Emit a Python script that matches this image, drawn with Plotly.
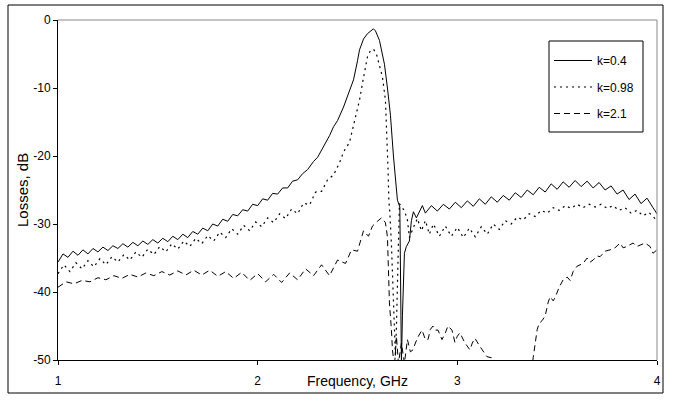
import plotly.graph_objects as go

# ---------------- data ----------------
# k = 0.4 (solid)
f_k04 = [1.000, 1.025, 1.050, 1.075, 1.100, 1.125, 1.150, 1.175, 1.200, 1.225,
         1.250, 1.275, 1.300, 1.325, 1.350, 1.375, 1.400, 1.425, 1.450, 1.475,
         1.500, 1.525, 1.550, 1.575, 1.600, 1.625, 1.650, 1.675, 1.700, 1.725,
         1.750, 1.775, 1.800, 1.825, 1.850, 1.875, 1.900, 1.925, 1.950, 1.975,
         2.000, 2.025, 2.050, 2.075, 2.100, 2.125, 2.150, 2.175, 2.200, 2.225,
         2.250, 2.280, 2.300, 2.330, 2.360, 2.380, 2.400, 2.430, 2.460, 2.480,
         2.500, 2.510, 2.530, 2.550, 2.580, 2.590, 2.610, 2.635, 2.650, 2.665,
         2.680, 2.690, 2.700, 2.712, 2.720, 2.725, 2.735, 2.745, 2.760, 2.770,
         2.780, 2.795, 2.810, 2.825,
         2.84, 2.87, 2.90, 2.93, 2.96, 2.99, 3.02, 3.05, 3.08, 3.11,
         3.14, 3.17, 3.20, 3.23, 3.26, 3.29, 3.32, 3.35, 3.38, 3.41,
         3.44, 3.47, 3.50, 3.53, 3.56, 3.59, 3.62, 3.65, 3.68, 3.71,
         3.74, 3.77, 3.80, 3.83, 3.86, 3.89, 3.92, 3.95, 3.98, 4.00]
loss_k04 = [-35.6, -34.4, -34.9, -34.0, -34.6, -33.8, -34.4, -33.6, -34.1, -33.4,
            -33.9, -33.2, -33.6, -32.9, -33.4, -32.7, -33.2, -32.5, -33.0, -32.3,
            -32.8, -32.1, -32.6, -31.8, -32.3, -31.5, -32.0, -31.1, -31.5, -30.6,
            -31.0, -30.0, -30.3, -29.3, -29.6, -28.6, -28.8, -27.9, -28.1, -27.1,
            -27.3, -26.3, -26.5, -25.5, -25.6, -24.7, -24.7, -23.7, -23.5, -22.6,
            -22.0, -20.8, -20.2, -18.7, -17.0, -15.7, -14.8, -12.8, -10.5, -8.8,
            -6.0, -4.4, -2.8, -2.0, -1.3, -1.6, -3.0, -6.5, -10.0, -14.0,
            -20.0, -23.5, -26.5, -27.5, -50.5, -43.5, -34.3, -33.3, -32.5, -29.5,
            -28.2, -29.1, -28.3, -27.3,
            -28.4, -27.3, -28.1, -27.1, -27.8, -26.8, -27.6, -26.6, -27.4, -26.3,
            -27.1, -26.0, -26.8, -25.8, -26.5, -25.4, -26.1, -25.0, -25.7, -24.6,
            -25.3, -24.1, -24.9, -23.8, -24.6, -23.6, -24.5, -23.7, -24.7, -23.9,
            -25.0, -24.4, -25.6, -25.0, -26.4, -25.6, -27.0, -26.2, -27.6, -28.5]

# k = 0.98 (dotted)
f_k098 = [1.00, 1.03, 1.06, 1.09, 1.12, 1.15, 1.18, 1.21, 1.24, 1.27,
          1.30, 1.33, 1.36, 1.39, 1.42, 1.45, 1.48, 1.51, 1.54, 1.57,
          1.60, 1.63, 1.66, 1.69, 1.72, 1.75, 1.78, 1.81, 1.84, 1.87,
          1.90, 1.93, 1.96, 1.99, 2.02, 2.05, 2.08, 2.11, 2.14, 2.17,
          2.20, 2.23, 2.26, 2.29, 2.32, 2.35, 2.38, 2.41, 2.43, 2.46,
          2.48, 2.49, 2.51, 2.525, 2.54, 2.55, 2.565, 2.58, 2.595, 2.605,
          2.625, 2.64, 2.648, 2.653, 2.657, 2.662, 2.67, 2.68, 2.69, 2.695,
          2.70, 2.71, 2.72, 2.735, 2.75, 2.76, 2.78, 2.80, 2.82, 2.84,
          2.86, 2.88, 2.91, 2.94, 2.97, 3.00, 3.03, 3.06, 3.09, 3.12,
          3.15, 3.18, 3.21, 3.24, 3.27, 3.30, 3.33, 3.36, 3.39, 3.42,
          3.45, 3.48, 3.51, 3.54, 3.57, 3.60, 3.63, 3.66, 3.69, 3.72,
          3.75, 3.78, 3.81, 3.84, 3.87, 3.90, 3.93, 3.96, 3.99, 4.00]
loss_k098 = [-37.3, -36.0, -37.0, -35.7, -36.6, -35.4, -36.3, -35.1, -36.0, -34.8,
             -35.6, -34.5, -35.3, -34.1, -34.9, -33.7, -34.5, -33.3, -34.1, -32.9,
             -33.7, -32.5, -33.3, -32.1, -32.9, -31.7, -32.5, -31.2, -32.0, -30.7,
             -31.5, -30.2, -31.0, -29.7, -30.4, -29.1, -29.8, -28.5, -29.2, -27.8,
             -28.5, -26.9, -27.2, -25.3, -25.2, -23.5, -22.8, -21.0, -19.4, -18.0,
             -15.5, -14.2, -11.8, -9.3, -7.0, -5.4, -4.5, -4.3, -5.0, -6.2,
             -8.4, -11.8, -17.0, -22.0, -26.5, -28.4, -33.0, -40.0, -49.5, -45.0,
             -38.0, -27.0, -27.5, -28.0, -29.4, -32.0, -30.5, -29.2, -31.0, -29.5,
             -31.5, -30.0, -31.8, -30.3, -31.8, -30.5, -32.0, -30.6, -31.9, -30.4,
             -31.5, -30.0, -30.8, -29.5, -30.0, -29.0, -29.4, -28.5, -28.9, -28.0,
             -28.4, -27.6, -28.0, -27.3, -27.7, -27.1, -27.6, -27.1, -27.5, -27.1,
             -27.7, -27.3, -28.0, -27.6, -28.4, -28.0, -28.8, -28.3, -29.2, -29.0]

# k = 2.1 (dashed)
f_k21 = [1.00, 1.04, 1.08, 1.12, 1.16, 1.20, 1.24, 1.28, 1.32, 1.36,
         1.40, 1.44, 1.48, 1.52, 1.56, 1.60, 1.64, 1.68, 1.72, 1.76,
         1.80, 1.84, 1.88, 1.92, 1.96, 2.00, 2.04, 2.08, 2.12, 2.16,
         2.20, 2.24, 2.28, 2.32, 2.36, 2.40, 2.44, 2.47, 2.50, 2.53,
         2.555, 2.575, 2.60, 2.62, 2.64, 2.65, 2.655, 2.66, 2.67, 2.675,
         2.685, 2.695, 2.705, 2.72, 2.735, 2.75, 2.765, 2.778, 2.79, 2.803,
         2.823, 2.84, 2.853, 2.865, 2.878, 2.89, 2.903, 2.923, 2.94, 2.953,
         2.973, 2.988, 3.00, 3.013, 3.038, 3.063, 3.075, 3.088, 3.113, 3.148,
         3.174, 3.20, 3.30, 3.375, 3.38, 3.39, 3.40, 3.41, 3.425, 3.44,
         3.455, 3.465, 3.48, 3.49, 3.51, 3.53, 3.55, 3.565, 3.58, 3.60,
         3.63, 3.65, 3.665, 3.68, 3.70, 3.715, 3.74, 3.765, 3.79, 3.815,
         3.83, 3.85, 3.88, 3.90, 3.915, 3.94, 3.965, 3.98, 4.00]
loss_k21 = [-39.3, -38.5, -38.8, -38.3, -38.5, -37.9, -38.2, -37.6, -38.0, -37.4,
            -37.8, -37.2, -37.6, -37.0, -37.5, -36.9, -37.5, -36.8, -37.5, -36.8,
            -37.7, -37.0, -38.0, -37.1, -38.3, -37.3, -38.5, -37.4, -38.6, -37.2,
            -38.2, -36.6, -37.6, -36.0, -37.6, -35.3, -35.8, -33.8, -34.0, -31.0,
            -31.8, -30.3, -29.6, -29.1, -29.8, -31.9, -36.8, -41.6, -45.6, -48.5,
            -51.0, -46.5, -50.5, -47.5, -50.5, -47.0, -48.8, -48.5, -47.5, -46.6,
            -45.6, -47.0, -47.0, -45.5, -45.0, -45.6, -45.6, -47.0, -46.0, -45.0,
            -45.6, -47.4, -46.5, -46.0, -47.5, -48.5, -47.5, -46.8, -48.0, -49.5,
            -49.7, -51.0, -52.0, -51.0, -49.6, -47.3, -45.5, -44.6, -44.2, -43.5,
            -41.5, -40.7, -41.3, -40.8, -39.3, -38.2, -37.8, -38.3, -37.0, -36.2,
            -35.8, -35.0, -35.6, -35.3, -34.7, -34.8, -34.0, -33.8, -33.5, -32.8,
            -33.5, -33.3, -32.8, -33.3, -33.1, -32.8, -33.3, -34.3, -33.8]

x_ticks = [1, 2, 3, 4]
y_ticks = [0, -10, -20, -30, -40, -50]

# ---------------- figure ----------------
fig = go.Figure()
fig.add_trace(go.Scatter(x=f_k04, y=loss_k04, mode="lines", name="k=0.4",
                         legendgroup="a", line=dict(color="black", width=1)))
fig.add_trace(go.Scatter(x=f_k098, y=loss_k098, mode="lines", name="k=0.98",
                         legendgroup="b", line=dict(color="black", width=1.2, dash="2px,4px")))
fig.add_trace(go.Scatter(x=f_k21, y=loss_k21, mode="lines", name="k=2.1",
                         legendgroup="c", line=dict(color="black", width=1, dash="6px,4px")))

font_family = "Liberation Sans, Arial, sans-serif"

fig.update_layout(
    width=673, height=401,
    margin=dict(l=58, r=16, t=20, b=41),
    paper_bgcolor="white", plot_bgcolor="white",
    font=dict(family=font_family, size=12, color="black"),
    xaxis=dict(range=[1, 4], tickvals=x_ticks, ticktext=[str(v) for v in x_ticks],
               showgrid=False, zeroline=False, showline=True, linecolor="black",
               linewidth=1, ticks="outside", ticklen=4, tickcolor="black",
               ticklabelstandoff=6),
    yaxis=dict(range=[-50, 0], tickvals=y_ticks, ticktext=[str(v) for v in y_ticks],
               showgrid=False, zeroline=False, showline=True, linecolor="black",
               linewidth=1, ticks="outside", ticklen=4, tickcolor="black"),
    legend=dict(x=(549 - 58) / 599, y=(360 - 46) / 340, xanchor="left", yanchor="top",
                borderwidth=0, bgcolor="rgba(0,0,0,0)",
                font=dict(family=font_family, size=12, color="black"),
                itemwidth=38, tracegroupgap=7.5, traceorder="grouped"),
    showlegend=True,
)

# plot-area border (grey top/right), legend box, outer chart border
fig.add_shape(type="line", xref="paper", yref="paper", x0=0, x1=1, y0=1, y1=1,
              line=dict(color="#888888", width=1))
fig.add_shape(type="line", xref="paper", yref="paper", x0=1, x1=1, y0=0, y1=1,
              line=dict(color="#888888", width=1))
fig.add_shape(type="rect", xref="paper", yref="paper",
              x0=(549 - 58) / 599, x1=(643 - 58) / 599,
              y0=(360 - 132) / 340, y1=(360 - 41) / 340,
              line=dict(color="black", width=1), fillcolor="white", layer="above")
fig.add_shape(type="rect", xref="paper", yref="paper",
              x0=(8 - 58) / 599, x1=(663 - 58) / 599,
              y0=(360 - 393) / 340, y1=(360 - 5) / 340,
              line=dict(color="black", width=1))

fig.add_annotation(text="Frequency, GHz", xref="paper", yref="paper",
                   x=0.5, y=(360 - 381) / 340, showarrow=False,
                   font=dict(family=font_family, size=14, color="black"),
                   xanchor="center", yanchor="middle")
fig.add_annotation(text="Losses, dB", xref="paper", yref="paper",
                   x=(22 - 58) / 599, y=0.5, showarrow=False, textangle=-90,
                   font=dict(family=font_family, size=15, color="black"),
                   xanchor="center", yanchor="middle")

fig.write_html("out.html")
